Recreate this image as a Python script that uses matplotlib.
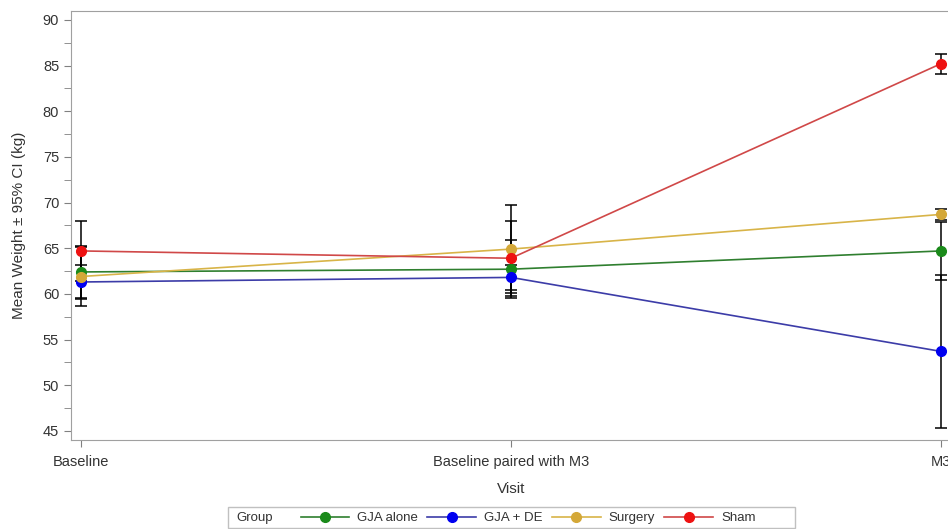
import numpy as np
import matplotlib
matplotlib.use('Agg')
import matplotlib.pyplot as plt
from matplotlib.lines import Line2D
from matplotlib.patches import Rectangle
from matplotlib.ticker import MultipleLocator

plt.rcParams['font.family'] = ['Liberation Sans', 'DejaVu Sans']

visits = ['Baseline', 'Baseline paired with M3', 'M3']
groups = ['GJA alone', 'GJA + DE', 'Surgery', 'Sham']

# mean weight (kg) per visit
mean_gja = [62.4, 62.7, 64.7]
mean_gja_de = [61.3, 61.8, 53.7]
mean_surgery = [61.9, 64.9, 68.7]
mean_sham = [64.7, 63.9, 85.2]

# 95% CI limits
lo_gja = [59.6, 59.5, 61.5]
hi_gja = [65.2, 65.9, 67.9]
lo_gja_de = [59.4, 60.4, 45.3]
hi_gja_de = [63.2, 63.2, 62.1]
lo_surgery = [58.7, 60.1, 68.1]
hi_surgery = [65.1, 69.7, 69.3]
lo_sham = [61.4, 59.8, 84.1]
hi_sham = [68.0, 68.0, 86.3]

means = [mean_gja, mean_gja_de, mean_surgery, mean_sham]
lows = [lo_gja, lo_gja_de, lo_surgery, lo_sham]
highs = [hi_gja, hi_gja_de, hi_surgery, hi_sham]

line_colors = ['#2f7f2f', '#3c3ca8', '#d8b448', '#d04848']
marker_colors = ['#1a8a1a', '#0000f0', '#d4a838', '#ee1111']

fig = plt.figure(figsize=(9.48, 5.29), dpi=100)
ax = fig.add_axes([71/948, 89/529, 880/948, 429.3/529])

x = np.arange(len(visits))
for m, lo, hi in zip(means, lows, highs):
  m = np.array(m); lo = np.array(lo); hi = np.array(hi)
  ax.errorbar(x, m, yerr=[m-lo, hi-m], fmt='none', ecolor='black',
              elinewidth=1.1, capsize=4.2, capthick=1.1, zorder=2)

for m, lc, mc in zip(means, line_colors, marker_colors):
  ax.plot(x, m, '-', color=lc, lw=1.2, zorder=3)
  ax.plot(x, m, 'o', color=mc, markersize=7, zorder=4)

ax.set_xlim(-0.0233, 2.0233)
ax.set_ylim(44, 91)
ax.set_xticks(x)
ax.set_xticklabels(visits)
ax.yaxis.set_major_locator(MultipleLocator(5))
ax.yaxis.set_minor_locator(MultipleLocator(2.5))

for s in ax.spines.values():
  s.set_color('#a0a0a0')
ax.tick_params(axis='both', which='both', colors='#808080', labelcolor='#333333', labelsize=10.5)
ax.tick_params(axis='both', which='major', length=5)
ax.tick_params(axis='y', which='minor', length=5)
ax.tick_params(axis='x', pad=6)

ax.set_xlabel('Visit', fontsize=11, color='#333333', labelpad=9)
ax.set_ylabel('Mean Weight \u00b1 95% CI (kg)', fontsize=11, color='#333333', labelpad=12)

# legend with "Group" label on the left, drawn as a framed strip
handles = [Line2D([], [], color=lc, lw=1.2, marker='o', markersize=7,
                  markerfacecolor=mc, markeredgecolor=mc)
           for lc, mc in zip(line_colors, marker_colors)]
fig.legend(handles, groups, ncol=4, loc='center', bbox_to_anchor=(528/948, 1-518/529),
           frameon=False, fontsize=9.5, handlelength=3.7, handletextpad=0.6,
           columnspacing=0.7, labelcolor='#333333')
fig.text(236/948, 1-518/529, 'Group', fontsize=9.5, color='#333333', va='center', ha='left')
fig.patches.append(Rectangle((228/948, 1-528/529), 567/948, 21/529, transform=fig.transFigure,
                             fill=False, edgecolor='#c0c0c0', lw=1))

fig.savefig('out.png', dpi=100, facecolor='white')
